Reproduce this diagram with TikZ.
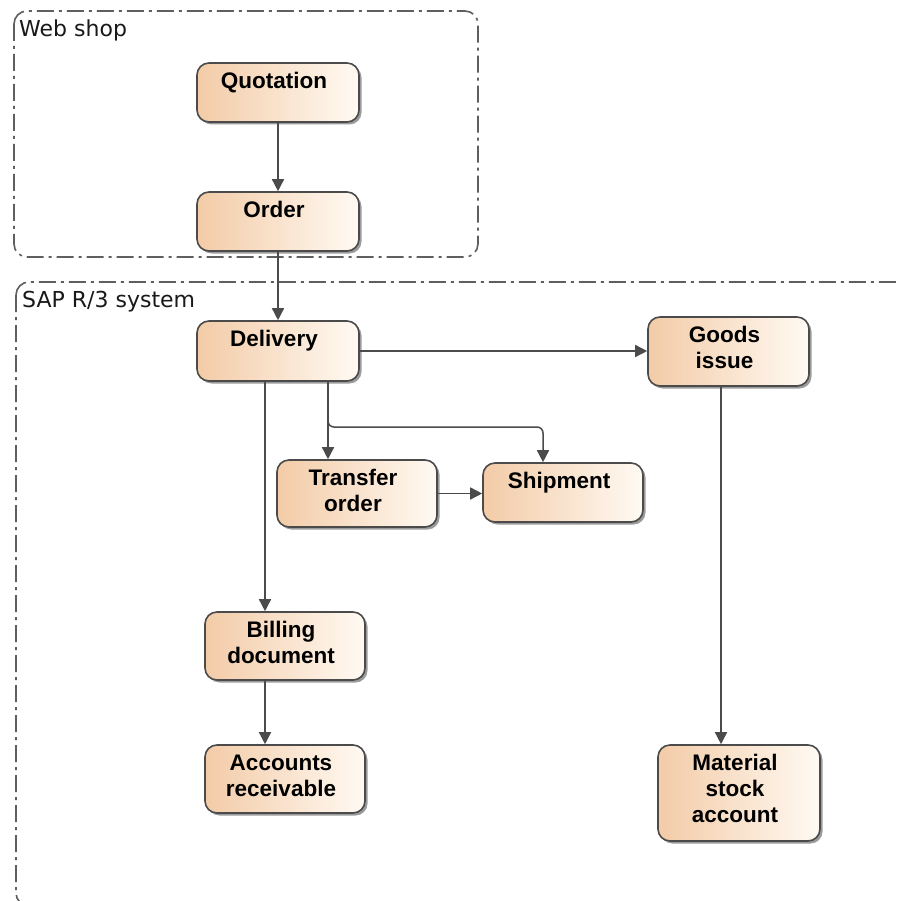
\documentclass[tikz,border=0pt]{standalone}
\usepackage{fontspec}
\setmainfont{Liberation Sans}
\newfontfamily\framefont{DejaVu Sans}
\usetikzlibrary{arrows.meta,shadows}

\definecolor{boxleft}{RGB}{243,203,167}
\definecolor{boxright}{RGB}{255,250,243}
\definecolor{edgegray}{RGB}{75,75,75}
\definecolor{framegray}{RGB}{95,95,95}

\tikzset{
  stepbox/.style={draw=edgegray, line width=1.6pt, rounded corners=12pt,
    left color=boxleft, right color=boxright, inner sep=0pt,
    drop shadow={shadow xshift=2.5pt, shadow yshift=-2.5pt, fill=black!60, opacity=0.65}},
  steplabel/.style={font=\fontsize{22.5}{26}\selectfont\bfseries, align=center,
    anchor=north, inner sep=0pt, text=black},
  flow/.style={draw=edgegray, line width=1.5pt, -{Triangle[length=12pt,width=12pt]}},
  region/.style={draw=framegray, line width=1.6pt, rounded corners=13pt,
    dash pattern=on 17pt off 5pt on 3pt off 5pt},
  regionlabel/.style={font=\framefont\fontsize{22}{26}\selectfont, anchor=base west,
    inner sep=0pt, text=black!90}
}

% process box: name, left, top, right, bottom, text
\newcommand\procstep[6]{%
  \node[stepbox, minimum width={#4-#2}, minimum height={#5-#3}]
    (#1) at ({(#2+#4)/2},{(#3+#5)/2}) {};
  \node[steplabel] (#1-text) at ([xshift=-4pt,yshift=-7.8pt]#1.north) {\strut #6};
}

\begin{document}
\begin{tikzpicture}[x=1pt,y=-1pt]
  \useasboundingbox (0,0) rectangle (899,901);
  \fill[white] (0,0) rectangle (899,901);

  % system boundaries
  \draw[region] (14,11) rectangle (478,257);
  \draw[region] (16,282) rectangle (912,906);
  \node[regionlabel] (weblbl) at (19,37) {Web shop};
  \node[regionlabel] (saplbl) at (22,307) {SAP R/3 system};

  % documents
  \procstep{quot}{197}{63}{359}{122}{Quotation}
  \procstep{ordr}{197}{192}{359}{251}{Order}
  \procstep{dlv}{197}{321}{359}{381}{Delivery}
  \procstep{gds}{648}{317}{809}{386}{Goods\\issue}
  \procstep{trn}{277}{460}{437}{527}{Transfer\\order}
  \procstep{shp}{483}{463}{643}{522}{Shipment}
  \procstep{bill}{205}{612}{365}{680}{Billing\\document}
  \procstep{acc}{205}{745}{365}{813}{Accounts\\receivable}
  \procstep{mat}{658}{745}{820}{841}{Material\\stock\\account}

  % routing points
  \coordinate (tx) at (328,427);
  \coordinate (sx) at (543,427);
  \coordinate (bx) at (265,500);
  \coordinate (mx) at (721,560);

  % flows
  \draw[flow] (quot) -- (ordr);
  \draw[flow] (ordr) -- (dlv);
  \draw[flow] (dlv.east) -- (dlv.east -| gds.west);
  \draw[flow] (dlv.south -| tx) -- (trn.north -| tx);
  \draw[flow, rounded corners=6pt] (dlv.south -| tx) -- (tx) -- (sx) -- (shp.north -| sx);
  \draw[flow] (trn.east) -- (trn.east -| shp.west);
  \draw[flow] (dlv.south -| bx) -- (bill.north -| bx);
  \draw[flow] (bill.south -| bx) -- (acc.north -| bx);
  \draw[flow] (gds.south -| mx) -- (mat.north -| mx);
\end{tikzpicture}
\end{document}
